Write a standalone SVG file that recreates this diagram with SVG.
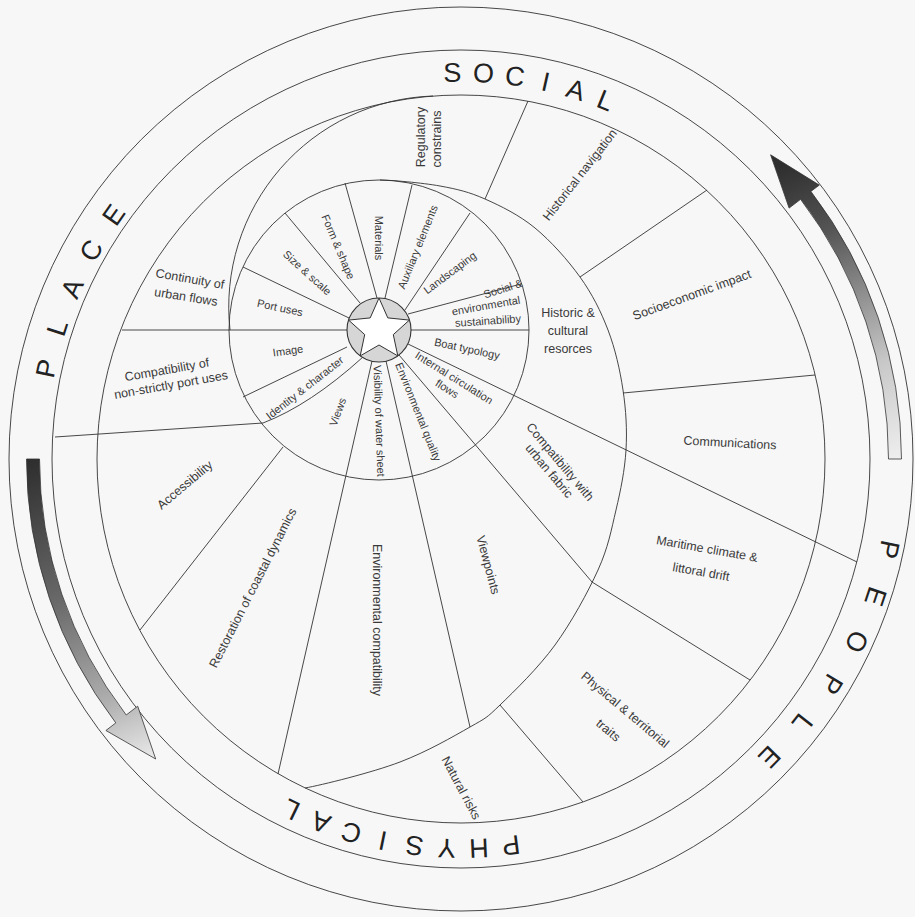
<svg xmlns="http://www.w3.org/2000/svg" width="915" height="917" viewBox="0 0 915 917">
<defs>
<style>
.ln{fill:none;stroke:#333;stroke-width:0.9}
.lb{font-family:'Liberation Sans',Arial,sans-serif;font-size:12.5px;fill:#3a3a3a;text-anchor:middle}
.sm{font-size:11px}
.big{font-family:'Liberation Sans',Arial,sans-serif;font-size:27px;fill:#222;text-anchor:middle}
</style>
<linearGradient id="gR" gradientUnits="userSpaceOnUse" x1="780" y1="165" x2="896" y2="459">
<stop offset="0" stop-color="#2e2e2e"/><stop offset="0.25" stop-color="#555"/><stop offset="0.7" stop-color="#c8c8c8"/><stop offset="1" stop-color="#eee"/>
</linearGradient>
<linearGradient id="gL" gradientUnits="userSpaceOnUse" x1="33" y1="459" x2="150" y2="755">
<stop offset="0" stop-color="#2e2e2e"/><stop offset="0.45" stop-color="#6a6a6a"/><stop offset="0.8" stop-color="#b0b0b0"/><stop offset="1" stop-color="#e6e6e6"/>
</linearGradient>
</defs>
<rect width="915" height="917" fill="#f7f7f7"/>

<g id="rings">
<circle class="ln" cx="461" cy="459" r="452"/>
<circle class="ln" cx="461" cy="459" r="409"/>
<circle class="ln" cx="461" cy="459" r="364"/>
<circle class="ln" cx="379" cy="330" r="150"/>
<path class="ln" d="M433 96 A211 211 0 0 0 230 330"/>
<path class="ln" d="M380 180 C390 180 422.5 182.8 440 186 C457.5 189.2 469.2 192 485 199 C500.8 206 519.2 215 535 228 C550.8 241 567.8 260 580 277 C592.2 294 600.8 311.2 608 330 C615.2 348.8 620 370 623 390 C626 410 627.2 430 626 450 C624.8 470 620.7 490 616 510 C611.3 530 608.2 547.5 598 570 C587.8 592.5 571.3 622.5 555 645 C538.7 667.5 514.2 691.3 500 705 C485.8 718.7 486.7 717.5 470 727 C453.3 736.5 427.5 751.5 400 762 C372.5 772.5 320.8 785.3 305 788"/>
</g>

<g id="connectors">
<line class="ln" x1="122" y1="330" x2="347" y2="330"/>
<line class="ln" x1="411" y1="330" x2="529" y2="330"/>
<line class="ln" x1="345" y1="183" x2="377" y2="298"/>
<line class="ln" x1="412" y1="185" x2="385" y2="298"/>
<line class="ln" x1="285" y1="213" x2="360" y2="303"/>
<line class="ln" x1="243" y1="267" x2="349" y2="318"/>
<line class="ln" x1="470" y1="213" x2="404.6" y2="310.5"/>
<line class="ln" x1="521" y1="284" x2="408" y2="314"/>
<line class="ln" x1="408" y1="344" x2="857" y2="562"/>
<polyline class="ln" points="399,355 592,582 750,680"/>
<line class="ln" x1="386" y1="361" x2="470" y2="727"/>
<line class="ln" x1="372" y1="361" x2="278" y2="774"/>
<path class="ln" d="M363 357 Q310 405 263 423 L55 437"/>
<line class="ln" x1="347" y1="347" x2="243" y2="397"/>
<line class="ln" x1="283" y1="447" x2="140" y2="630"/>
<line class="ln" x1="485" y1="199" x2="528" y2="101"/>
<line class="ln" x1="580" y1="277" x2="707" y2="190"/>
<line class="ln" x1="623" y1="393" x2="815" y2="375"/>
<line class="ln" x1="500" y1="705" x2="583" y2="802"/>
</g>

<g id="hub">
<circle cx="379" cy="330" r="32" fill="#d6d6d6" stroke="#333" stroke-width="1.1"/>
<path d="M379,298 L387.8,317.9 L409.4,320.1 L393.3,334.6 L397.8,355.9 L379,345 L360.2,355.9 L364.7,334.6 L348.6,320.1 L370.2,317.9 Z" fill="#fff" stroke="#333" stroke-width="1"/>
</g>

<g id="arrows">
<path d="M888.5 459 A427.5 427.5 0 0 0 800.6 199.3 L789.1 208.1 L770.6 154.8 L819.3 185.1 L810.9 191.4 A440.5 440.5 0 0 1 901.5 459 Z" fill="url(#gR)" stroke="#333" stroke-width="0.8"/>
<path d="M39.5 459 A421.5 421.5 0 0 0 126.2 715 L137.7 706.2 L155.7 759 L105.9 730.5 L115.8 722.9 A434.5 434.5 0 0 1 26.5 459 Z" fill="url(#gL)" stroke="#333" stroke-width="0.8"/>
</g>

<g id="ring-labels">
<g id="social">
<text class="big" transform="translate(452.2,72.1) rotate(-1.3)" dy="0.36em">S</text>
<text class="big" transform="translate(483.6,72.7) rotate(3.35)" dy="0.36em">O</text>
<text class="big" transform="translate(514.9,75.8) rotate(8)" dy="0.36em">C</text>
<text class="big" transform="translate(545.8,81.4) rotate(12.65)" dy="0.36em">I</text>
<text class="big" transform="translate(576.1,89.5) rotate(17.3)" dy="0.36em">A</text>
<text class="big" transform="translate(605.7,100.1) rotate(21.95)" dy="0.36em">L</text>
</g>
<g id="physical">
<text class="big" transform="translate(511.2,845.8) rotate(172.6)" dy="0.36em">P</text>
<text class="big" transform="translate(479,848.6) rotate(177.35)" dy="0.36em">H</text>
<text class="big" transform="translate(446.7,848.7) rotate(182.1)" dy="0.36em">Y</text>
<text class="big" transform="translate(414.5,846.2) rotate(186.85)" dy="0.36em">S</text>
<text class="big" transform="translate(382.6,841) rotate(191.6)" dy="0.36em">I</text>
<text class="big" transform="translate(351.2,833.2) rotate(196.35)" dy="0.36em">C</text>
<text class="big" transform="translate(320.6,822.9) rotate(201.1)" dy="0.36em">A</text>
<text class="big" transform="translate(291,810) rotate(205.85)" dy="0.36em">L</text>
</g>
<g id="place">
<text class="big" transform="translate(45.8,368.5) rotate(-77.7)" dy="0.36em">P</text>
<text class="big" transform="translate(56.8,327.7) rotate(-72)" dy="0.36em">L</text>
<text class="big" transform="translate(71.8,288.2) rotate(-66.3)" dy="0.36em">A</text>
<text class="big" transform="translate(90.7,250.3) rotate(-60.6)" dy="0.36em">C</text>
<text class="big" transform="translate(113.3,214.6) rotate(-54.9)" dy="0.36em">E</text>
</g>
<g id="people">
<text class="big" transform="translate(889.4,549.5) rotate(102)" dy="0.36em">P</text>
<text class="big" transform="translate(876.2,596.7) rotate(108.5)" dy="0.36em">E</text>
<text class="big" transform="translate(857.2,641.9) rotate(115)" dy="0.36em">O</text>
<text class="big" transform="translate(832,684.4) rotate(121.5)" dy="0.36em">P</text>
<text class="big" transform="translate(802.8,723.4) rotate(128)" dy="0.36em">L</text>
<text class="big" transform="translate(769.9,757.2) rotate(134.5)" dy="0.36em">E</text>
</g>
</g>

<g id="outer-nodes">
<g id="n-regulatory"><text class="lb" transform="translate(421,137) rotate(-90)" dy="0.32em">Regulatory</text><text class="lb" transform="translate(437,139) rotate(-90)" dy="0.32em">constrains</text></g>
<g id="n-historical-navigation"><text class="lb" transform="translate(580,175) rotate(-52)" dy="0.32em">Historical navigation</text></g>
<g id="n-socioeconomic"><text class="lb" transform="translate(692,295) rotate(-20)" dy="0.32em">Socioeconomic impact</text></g>
<g id="n-communications"><text class="lb" transform="translate(730,443) rotate(3)" dy="0.32em">Communications</text></g>
<g id="n-maritime"><text class="lb" transform="translate(707,549) rotate(10)" dy="0.32em">Maritime climate &amp;</text><text class="lb" transform="translate(701,572) rotate(10)" dy="0.32em">littoral drift</text></g>
<g id="n-physical-traits"><text class="lb" transform="translate(625,710) rotate(40)" dy="0.32em">Physical &amp; territorial</text><text class="lb" transform="translate(616,721) rotate(40)" dy="1.3em">traits</text></g>
<g id="n-natural-risks"><text class="lb" transform="translate(461,788) rotate(62)" dy="0.32em">Natural risks</text></g>
<g id="n-viewpoints"><text class="lb" transform="translate(488,565) rotate(75)" dy="0.32em">Viewpoints</text></g>
<g id="n-env-compatibility"><text class="lb" transform="translate(377,620) rotate(90)" dy="0.32em">Environmental compatibility</text></g>
<g id="n-restoration"><text class="lb" transform="translate(253,588) rotate(-63)" dy="0.32em">Restoration of coastal dynamics</text></g>
<g id="n-accessibility"><text class="lb" transform="translate(185,485) rotate(-40)" dy="0.32em">Accessibility</text></g>
<g id="n-compat-nonport"><text class="lb" transform="translate(167,370) rotate(-10)" dy="0.32em">Compatibility of</text><text class="lb" transform="translate(171,385) rotate(-10)" dy="0.32em">non-strictly port uses</text></g>
<g id="n-continuity"><text class="lb" transform="translate(190,279) rotate(10)" dy="0.32em">Continuity of</text><text class="lb" transform="translate(186,297) rotate(9)" dy="0.32em">urban flows</text></g>
<g id="n-compat-urban"><text class="lb" transform="translate(560,462) rotate(50)" dy="0.32em">Compatibility with</text><text class="lb" transform="translate(549,471) rotate(50)" dy="0.32em">urban fabric</text></g>
<g id="n-historic"><text class="lb" x="568" y="313" dy="0.32em">Historic &amp;</text><text class="lb" x="568" y="331" dy="0.32em">cultural</text><text class="lb" x="568" y="349" dy="0.32em">resorces</text></g>
</g>

<g id="inner-nodes">
<g id="n-materials"><text class="lb sm" transform="translate(379,238) rotate(90)" dy="0.32em">Materials</text></g>
<g id="n-form"><text class="lb sm" transform="translate(338,247) rotate(67)" dy="0.32em">Form &amp; shape</text></g>
<g id="n-size"><text class="lb sm" transform="translate(307,273) rotate(42)" dy="0.32em">Size &amp; scale</text></g>
<g id="n-port-uses"><text class="lb sm" transform="translate(280,308) rotate(12)" dy="0.32em">Port uses</text></g>
<g id="n-image"><text class="lb sm" transform="translate(288,351) rotate(-8)" dy="0.32em">Image</text></g>
<g id="n-identity"><text class="lb sm" transform="translate(305,388) rotate(-38)" dy="0.32em">Identity &amp; character</text></g>
<g id="n-views"><text class="lb sm" transform="translate(338,412) rotate(-70)" dy="0.32em">Views</text></g>
<g id="n-visibility"><text class="lb sm" transform="translate(379,421) rotate(88)" dy="0.32em">Visibility of water sheet</text></g>
<g id="n-env-quality"><text class="lb sm" transform="translate(418,412) rotate(68)" dy="0.32em">Environmental quality</text></g>
<g id="n-internal"><text class="lb sm" transform="translate(454,378) rotate(32)" dy="0.32em">Internal circulation</text><text class="lb sm" transform="translate(447,389) rotate(32)" dy="0.32em">flows</text></g>
<g id="n-boat"><text class="lb sm" transform="translate(467,349) rotate(12)" dy="0.32em">Boat typology</text></g>
<g id="n-social-env"><text class="lb sm" transform="translate(503,289) rotate(-18)" dy="0.32em">Social &amp;</text><text class="lb sm" transform="translate(486,306) rotate(-10)" dy="0.32em">environmental</text><text class="lb sm" transform="translate(488,321) rotate(-4)" dy="0.32em">sustainabiliby</text></g>
<g id="n-landscaping"><text class="lb sm" transform="translate(450,273) rotate(-37)" dy="0.32em">Landscaping</text></g>
<g id="n-auxiliary"><text class="lb sm" transform="translate(418,247) rotate(-68)" dy="0.32em">Auxiliary elements</text></g>
</g>
</svg>
